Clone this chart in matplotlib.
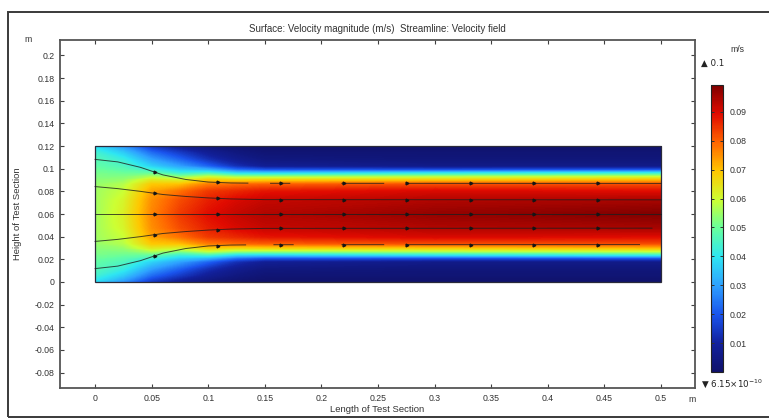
import numpy as np
import matplotlib
matplotlib.use("Agg")
import matplotlib.pyplot as plt
from matplotlib.patches import Rectangle
from matplotlib.colors import Normalize, LinearSegmentedColormap
from matplotlib.cm import ScalarMappable

plt.rcParams['font.family'] = ['Liberation Sans', 'DejaVu Sans']

# velocity magnitude (m/s) read along the channel, half profile from wall to centreline
x_stations = [0, 0.025, 0.05, 0.075, 0.1, 0.125, 0.15, 0.3, 0.5]
wall_dist = [0, 0.006, 0.012, 0.018, 0.021, 0.024, 0.027, 0.030, 0.034, 0.040, 0.048, 0.060]
speed_x000 = [0.038, 0.044, 0.047, 0.049, 0.050, 0.051, 0.052, 0.053, 0.054, 0.055, 0.055, 0.055]
speed_x025 = [0.028, 0.036, 0.042, 0.046, 0.048, 0.050, 0.052, 0.054, 0.057, 0.059, 0.061, 0.062]
speed_x050 = [0.014, 0.023, 0.030, 0.037, 0.043, 0.049, 0.056, 0.063, 0.069, 0.073, 0.075, 0.076]
speed_x075 = [0.007, 0.015, 0.022, 0.030, 0.036, 0.043, 0.052, 0.061, 0.070, 0.078, 0.082, 0.084]
speed_x100 = [0.003, 0.008, 0.013, 0.022, 0.032, 0.045, 0.058, 0.068, 0.077, 0.084, 0.087, 0.089]
speed_x125 = [0.001, 0.004, 0.007, 0.013, 0.023, 0.038, 0.054, 0.066, 0.079, 0.086, 0.090, 0.092]
speed_x150 = [0.000, 0.002, 0.004, 0.008, 0.019, 0.037, 0.054, 0.067, 0.080, 0.088, 0.092, 0.094]
speed_x300 = [0.000, 0.002, 0.003, 0.006, 0.018, 0.040, 0.056, 0.068, 0.082, 0.090, 0.094, 0.097]
speed_x500 = [0.000, 0.002, 0.003, 0.006, 0.019, 0.042, 0.058, 0.070, 0.082, 0.089, 0.095, 0.099]

speed_min = 6.15e-10
speed_max = 0.0993
cbar_ticks = [0.01, 0.02, 0.03, 0.04, 0.05, 0.06, 0.07, 0.08, 0.09]

# streamlines (y in m) through the contraction
sl_x = [0, 0.02, 0.04, 0.06, 0.08, 0.1, 0.12, 0.15, 0.5]
sl_top = [0.1082, 0.1060, 0.1012, 0.0945, 0.0905, 0.0882, 0.0874, 0.0871, 0.0870]
sl_upper = [0.0842, 0.0824, 0.0800, 0.0772, 0.0755, 0.0742, 0.0733, 0.0727, 0.0725]
sl_mid = [0.06, 0.06, 0.06, 0.06, 0.06, 0.06, 0.06, 0.06, 0.06]
sl_lower = [0.0358, 0.0376, 0.0400, 0.0428, 0.0445, 0.0458, 0.0467, 0.0473, 0.0475]
sl_bottom = [0.0118, 0.0140, 0.0188, 0.0255, 0.0295, 0.0318, 0.0326, 0.0329, 0.0330]
sl_spans = {
    'top': [(0, 0.135), (0.155, 0.172), (0.218, 0.255), (0.275, 0.5)],
    'upper': [(0, 0.5)],
    'mid': [(0, 0.5)],
    'lower': [(0, 0.492)],
    'bottom': [(0, 0.133), (0.158, 0.175), (0.218, 0.255), (0.275, 0.481)],
}
arrow_x = [0.053, 0.1085, 0.164, 0.22, 0.276, 0.332, 0.388, 0.444]

# rainbow scale with a dark navy low end
rainbow = LinearSegmentedColormap.from_list('rainbow_dark', [
    (0.00, (0.06, 0.07, 0.42)),
    (0.10, (0.07, 0.13, 0.62)),
    (0.20, (0.10, 0.33, 0.93)),
    (0.30, (0.18, 0.63, 1.00)),
    (0.40, (0.18, 0.90, 0.95)),
    (0.50, (0.40, 1.00, 0.62)),
    (0.60, (0.80, 1.00, 0.20)),
    (0.70, (1.00, 0.78, 0.00)),
    (0.80, (1.00, 0.40, 0.00)),
    (0.90, (0.88, 0.04, 0.00)),
    (1.00, (0.50, 0.00, 0.00)),
])

# build full-height grid by mirroring the half profiles about the centreline
profiles = np.array([speed_x000, speed_x025, speed_x050, speed_x075, speed_x100,
                     speed_x125, speed_x150, speed_x300, speed_x500])
d = np.array(wall_dist)
y_full = np.concatenate([d, 0.12 - d[::-1][1:]])
Z = np.hstack([profiles, profiles[:, ::-1][:, 1:]]).T
X, Y = np.meshgrid(x_stations, y_full)

fig = plt.figure(figsize=(7.69, 4.20), dpi=100)
fig.patches.append(Rectangle((8 / 769, 3 / 420), 0.999, 405 / 420, transform=fig.transFigure,
                             fill=False, ec='#3a3a3a', lw=1.4))

ax = fig.add_axes([60 / 769, 32 / 420, 635 / 769, 348 / 420])
ax.set_xlim(-0.031, 0.530)
ax.set_ylim(-0.0936, 0.2136)

levels = np.linspace(0, speed_max, 256)
cs = ax.contourf(X, Y, Z, levels=levels, cmap=rainbow, vmin=0, vmax=speed_max,
                 antialiased=False, extend='both')
ax.add_patch(Rectangle((0, 0), 0.5, 0.12, fill=False, ec='#2a2a3a', lw=0.9, zorder=3))

# streamlines with arrow markers
lines = {'top': sl_top, 'upper': sl_upper, 'mid': sl_mid, 'lower': sl_lower, 'bottom': sl_bottom}
for name, ys in lines.items():
    for x0, x1 in sl_spans[name]:
        xs = np.array([x0] + [v for v in sl_x if x0 < v < x1] + [x1])
        ax.plot(xs, np.interp(xs, sl_x, ys), color='#1e1e1e', lw=0.7, alpha=0.8, zorder=4)
    ax.plot(arrow_x, np.interp(arrow_x, sl_x, ys), ls='none', marker='>', ms=2.0,
            color='#151515', zorder=5)

xt = np.round(np.arange(0, 0.501, 0.05), 2)
yt = np.round(np.arange(-0.08, 0.201, 0.02), 2)
ax.set_xticks(xt)
ax.set_xticklabels(['%g' % (v + 0.0) for v in xt])
ax.set_yticks(yt)
ax.set_yticklabels(['%g' % (v + 0.0) for v in yt])
ax.tick_params(direction='in', top=True, right=True, length=3, width=0.8,
               color='#404040', labelsize=6.3, labelcolor='#333333', pad=4)
for sp in ax.spines.values():
    sp.set_color('#555555')
    sp.set_linewidth(1.3)

ax.set_title('Surface: Velocity magnitude (m/s)  Streamline: Velocity field',
             fontsize=7, color='#333333', pad=6)
ax.set_xlabel('Length of Test Section', fontsize=6.8, color='#333333', labelpad=2)
ax.set_ylabel('Height of Test Section', fontsize=6.8, color='#333333', labelpad=9)
fig.text(28 / 769, 1 - 40 / 420, 'm', fontsize=6.3, color='#333333', ha='center', va='center')
fig.text(692 / 769, 1 - 399 / 420, 'm', fontsize=6.3, color='#333333', ha='center', va='center')

# colour legend
cax = fig.add_axes([711 / 769, 48 / 420, 12 / 769, 287 / 420])
sm = ScalarMappable(norm=Normalize(0, speed_max), cmap=rainbow)
cb = fig.colorbar(sm, cax=cax, ticks=cbar_ticks)
cb.ax.set_yticklabels(['%g' % v for v in cbar_ticks])
cb.ax.tick_params(direction='in', left=True, right=True, length=2, width=0.7,
                  color='#333333', labelsize=6.3, labelcolor='#333333', pad=5)
cb.outline.set_edgecolor('#222222')
cb.outline.set_linewidth(0.8)

fig.text(737 / 769, 1 - 50 / 420, 'm/s', fontsize=6.3, color='#333333', ha='center', va='center')
fig.text(701 / 769, 1 - 63 / 420, '\u25b2 %g' % 0.1, fontsize=6.3, color='#222222', va='center',
         family=['DejaVu Sans'])
fig.text(701 / 769, 1 - 384 / 420, '\u25bc 6.15$\\times$10$^{-10}$', fontsize=6.3,
         color='#222222', va='center', family=['DejaVu Sans'])

fig.savefig('out.png', dpi=100)
